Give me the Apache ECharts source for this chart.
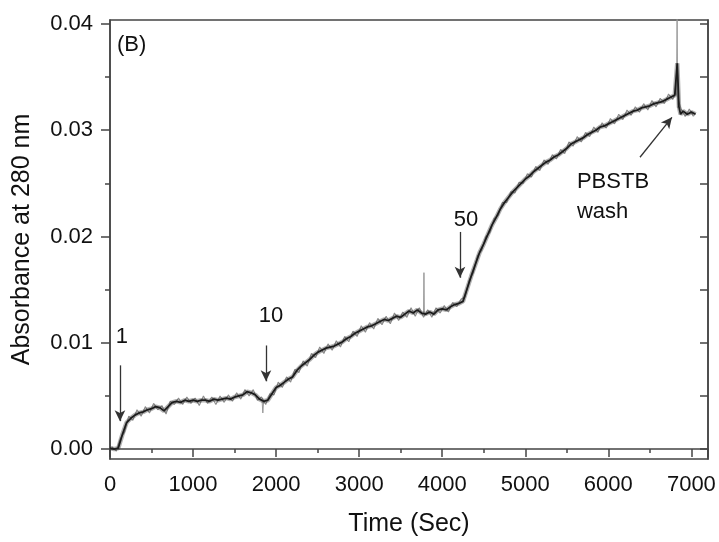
<!DOCTYPE html>
<html>
<head>
<meta charset="utf-8">
<script src="https://cdn.jsdelivr.net/npm/echarts@6/dist/echarts.min.js"></script>
<style>
html,body{margin:0;padding:0;background:#fff;}
#chart{width:719px;height:542px;}
</style>
</head>
<body>
<div id="chart"></div>
<script>
// ---- data ----
// smoothed (dark) trace
const timeSec = [0,50,100,150,200,250,300,350,400,450,500,550,600,650,700,750,800,850,900,950,
  1000,1050,1100,1150,1200,1250,1300,1350,1400,1450,1500,1550,1600,1650,1700,1750,1800,1850,1900,1950,
  2000,2050,2100,2150,2200,2250,2300,2350,2400,2450,2500,2550,2600,2650,2700,2750,2800,2850,2900,2950,
  3000,3050,3100,3150,3200,3250,3300,3350,3400,3450,3500,3550,3600,3650,3700,3750,3800,3850,3900,3950,
  4000,4050,4100,4150,4200,4250,4300,4350,4400,4450,4500,4550,4600,4650,4700,4750,4800,4850,4900,4950,
  5000,5050,5100,5150,5200,5250,5300,5350,5400,5450,5500,5550,5600,5650,5700,5750,5800,5850,5900,5950,
  6000,6050,6100,6150,6200,6250,6300,6350,6400,6450,6500,6550,6600,6650,6700,6750,6800,6830,6850,6870,
  6900,6950,7000,7050];
const absorbance = [0.0001,0.0000,0.0001,0.0014,0.0025,0.0029,0.0032,0.0034,0.0035,0.0037,0.0038,0.0040,0.0039,0.0036,0.0040,0.0044,0.0045,0.0044,0.0046,0.0045,
  0.0046,0.0045,0.0046,0.0046,0.0045,0.0047,0.0046,0.0047,0.0048,0.0047,0.0049,0.0050,0.0051,0.0054,0.0053,0.0051,0.0047,0.0045,0.0046,0.0052,
  0.0058,0.0060,0.0063,0.0066,0.0068,0.0074,0.0078,0.0081,0.0084,0.0088,0.0091,0.0093,0.0095,0.0096,0.0097,0.0099,0.0101,0.0104,0.0106,0.0109,
  0.0111,0.0113,0.0115,0.0116,0.0118,0.0120,0.0122,0.0121,0.0123,0.0125,0.0124,0.0127,0.0130,0.0128,0.0131,0.0128,0.0127,0.0129,0.0127,0.0131,
  0.0132,0.0131,0.0134,0.0136,0.0137,0.0139,0.0151,0.0163,0.0174,0.0185,0.0193,0.0202,0.0211,0.0218,0.0226,0.0232,0.0237,0.0242,0.0246,0.0250,
  0.0254,0.0257,0.0261,0.0264,0.0267,0.0270,0.0272,0.0275,0.0277,0.0280,0.0283,0.0287,0.0289,0.0291,0.0293,0.0296,0.0298,0.0300,0.0303,0.0304,
  0.0306,0.0308,0.0310,0.0312,0.0314,0.0316,0.0318,0.0319,0.0321,0.0322,0.0323,0.0325,0.0326,0.0327,0.0329,0.0331,0.0333,0.0363,0.0322,0.0315,
  0.0318,0.0315,0.0317,0.0315];
// noisy raw (light grey) trace
const rawTime = [25,75,125,175,225,275,325,375,425,475,525,575,625,675,725,775,825,875,925,975,
  1025,1075,1125,1175,1225,1275,1325,1375,1425,1475,1525,1575,1625,1675,1725,1775,1825,1875,1925,1975,
  2025,2075,2125,2175,2225,2275,2325,2375,2425,2475,2525,2575,2625,2675,2725,2775,2825,2875,2925,2975,
  3025,3075,3125,3175,3225,3275,3325,3375,3425,3475,3525,3575,3625,3675,3725,3775,3825,3875,3925,3975,
  4025,4075,4125,4175,4225,4275,4325,4375,4425,4475,4525,4575,4625,4675,4725,4775,4825,4875,4925,4975,
  5025,5075,5125,5175,5225,5275,5325,5375,5425,5475,5525,5575,5625,5675,5725,5775,5825,5875,5925,5975,
  6025,6075,6125,6175,6225,6275,6325,6375,6425,6475,6525,6575,6625,6675,6725,6775,6815,6875,6925,6975,7025];
const rawAbsorbance = [0.0002,-0.0002,0.0010,0.0016,0.0031,0.0027,0.0037,0.0031,0.0040,0.0034,0.0043,0.0037,0.0041,0.0033,0.0045,0.0042,0.0048,0.0042,0.0049,0.0043,
  0.0048,0.0041,0.0050,0.0043,0.0049,0.0042,0.0050,0.0044,0.0051,0.0045,0.0053,0.0047,0.0056,0.0050,0.0056,0.0046,0.0049,0.0042,0.0052,0.0051,
  0.0063,0.0058,0.0068,0.0063,0.0075,0.0072,0.0083,0.0078,0.0090,0.0086,0.0096,0.0090,0.0099,0.0093,0.0102,0.0096,0.0106,0.0101,0.0111,0.0106,
  0.0116,0.0110,0.0119,0.0113,0.0123,0.0117,0.0125,0.0118,0.0128,0.0121,0.0129,0.0124,0.0133,0.0125,0.0133,0.0124,0.0131,0.0124,0.0133,0.0128,
  0.0135,0.0129,0.0138,0.0134,0.0141,0.0143,0.0159,0.0166,0.0182,0.0187,0.0200,0.0204,0.0217,0.0220,0.0232,0.0232,0.0242,0.0241,0.0251,0.0250,
  0.0259,0.0256,0.0266,0.0262,0.0272,0.0268,0.0277,0.0273,0.0282,0.0278,0.0289,0.0285,0.0294,0.0289,0.0298,0.0294,0.0303,0.0298,0.0307,0.0302,
  0.0311,0.0306,0.0315,0.0310,0.0319,0.0314,0.0322,0.0317,0.0325,0.0319,0.0328,0.0322,0.0330,0.0325,0.0334,0.0329,0.0336,0.0320,0.0313,0.0320,0.0313];
// thin grey noise spikes in the raw trace
const spike1T = [1830,1840,1850], spike1A = [0.0047,0.0034,0.0046];
const spike2T = [3775,3780,3785], spike2A = [0.0128,0.0166,0.0127];
const spike3T = [6820,6828,6836], spike3A = [0.0333,0.0405,0.0321];

const yLabels = [0, 0.01, 0.02, 0.03, 0.04];
const yMinor = [0.005, 0.015, 0.025, 0.035];
const yAll = [0,0.005,0.01,0.015,0.02,0.025,0.03,0.035,0.04];

// annotations (data units)
const arrows = [
  [[120,0.00788],[120,0.00263]],
  [[1878,0.00975],[1878,0.00638]],
  [[4214,0.02043],[4214,0.01612]],
  [[6381,0.02746],[6766,0.03121]]
];
const texts = [
  {t:'(B)', at:[84,0.03805], align:'left'},
  {t:'1', at:[144,0.01059], align:'center'},
  {t:'10', at:[1938,0.01256], align:'center'},
  {t:'50', at:[4286,0.02156], align:'center'},
  {t:'PBSTB', at:[5622,0.02512], align:'left'},
  {t:'wash', at:[5622,0.02231], align:'left'}
];

const FONT = 'Liberation Sans, Arial, Helvetica, sans-serif';
const AX = '#444';
const TXT = '#111';
const pairs = (tt, aa) => tt.map((t,i) => [t, aa[i]]);
const mainData = pairs(timeSec, absorbance);
const rawData = pairs(rawTime, rawAbsorbance);

const chart = echarts.init(document.getElementById('chart'), null, {renderer:'canvas'});
const yMin = -0.00093, yMax = 0.04037;

const spikeSeries = [[spike1T,spike1A],[spike2T,spike2A],[spike3T,spike3A]].map(([tt,aa]) => ({
  type:'line', data: pairs(tt,aa), showSymbol:false, symbol:'none', silent:true,
  lineStyle:{color:'#999', width:1}, z:1, clip:true
}));

chart.setOption({
  animation:false,
  backgroundColor:'#fff',
  grid:{left:110, top:20, right:11, bottom:81, show:true, borderColor:AX, borderWidth:1.5, backgroundColor:'transparent'},
  xAxis:[{
    type:'value', min:0, max:7200, interval:1000,
    axisLine:{show:true, lineStyle:{color:AX, width:1.5}},
    axisTick:{show:true, inside:false, length:8, lineStyle:{color:AX, width:1.5}},
    minorTick:{show:true, splitNumber:2, length:4, lineStyle:{color:AX, width:1.5}},
    splitLine:{show:false},
    axisLabel:{color:TXT, fontFamily:FONT, fontSize:22, margin:15,
      formatter: v => String(v)},
    name:'Time (Sec)', nameLocation:'middle', nameGap:53,
    nameTextStyle:{color:TXT, fontFamily:FONT, fontSize:25}
  }],
  yAxis:[{
    type:'value', min:yMin, max:yMax, position:'left',
    axisLine:{show:true, lineStyle:{color:AX, width:1.5}},
    axisTick:{show:true, inside:false, length:9, customValues:yLabels, lineStyle:{color:AX, width:1.5}},
    splitLine:{show:false},
    axisLabel:{color:TXT, fontFamily:FONT, fontSize:22, margin:17, customValues:yLabels,
      formatter: v => Number(v).toFixed(2)},
    name:'Absorbance at 280 nm', nameLocation:'middle', nameGap:75,
    nameTextStyle:{color:TXT, fontFamily:FONT, fontSize:25}
  },{
    type:'value', min:yMin, max:yMax, position:'left',
    axisLine:{show:false},
    axisTick:{show:true, inside:false, length:5, customValues:yMinor, lineStyle:{color:AX, width:1.5}},
    splitLine:{show:false},
    axisLabel:{show:false, customValues:yMinor}
  },{
    type:'value', min:yMin, max:yMax, position:'right',
    axisLine:{show:true, lineStyle:{color:AX, width:1.5}},
    axisTick:{show:true, inside:true, length:8, customValues:yAll, lineStyle:{color:AX, width:1.5}},
    splitLine:{show:false},
    axisLabel:{show:false, customValues:yAll}
  }],
  series:[
    {type:'line', data:rawData, showSymbol:false, symbol:'none', silent:true,
      lineStyle:{color:'#8a8a8a', width:1.1}, z:1},
    {type:'line', data:mainData, showSymbol:false, symbol:'none', silent:true,
      lineStyle:{color:'rgba(60,60,60,0.4)', width:4.5}, z:2},
    {type:'line', data:mainData, showSymbol:false, symbol:'none', silent:true,
      lineStyle:{color:'#1c1c1c', width:1.8}, z:3,
      markLine:{
        silent:true, symbol:['none','arrow'], symbolSize:[8,11], animation:false,
        lineStyle:{color:'#333', width:1.3, type:'solid'}, label:{show:false},
        data: arrows.map(a => [{coord:a[0]},{coord:a[1]}])
      }
    },
    ...spikeSeries
  ]
});

const graphics = texts.map(tx => {
  const p = chart.convertToPixel({xAxisIndex:0, yAxisIndex:0}, tx.at);
  return {type:'text', x:p[0], y:p[1], z:10, style:{text:tx.t, fill:TXT, font:'22px ' + FONT,
    textAlign:tx.align, textVerticalAlign:'middle'}};
});
chart.setOption({graphic:graphics});
</script>
</body>
</html>
